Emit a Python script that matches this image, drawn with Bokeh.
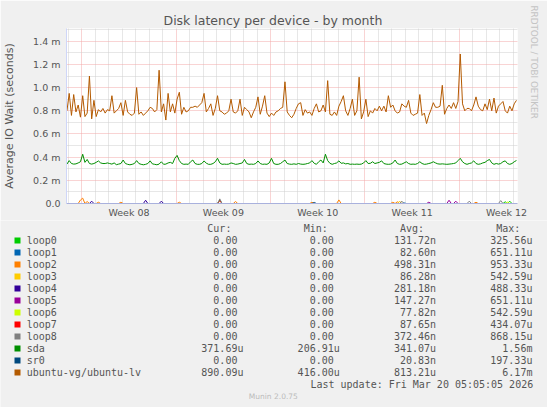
import numpy as np
from bokeh.plotting import figure
from bokeh.layouts import column
from bokeh.models import FixedTicker, Range1d, Title
from bokeh.core.properties import value
from bokeh.embed import file_html
from bokeh.resources import INLINE

# ---------------- data ----------------
TITLE = "Disk latency per device - by month"
Y_TITLE = "Average IO Wait (seconds)"
week_labels = ["Week 08", "Week 09", "Week 10", "Week 11", "Week 12"]
week_mid = [3.5, 10.5, 17.5, 24.5, 31.5]          # days from start of Week 08
week_bounds = [0, 7, 14, 21, 28]
y_ticks = [0, 0.2, 0.4, 0.6, 0.8, 1.0, 1.2, 1.4]  # milliseconds
y_tick_labels = ["0.0", "0.2 m", "0.4 m", "0.6 m", "0.8 m", "1.0 m", "1.2 m", "1.4 m"]
y_minor = [0.1, 0.3, 0.5, 0.7, 0.9, 1.1, 1.3, 1.5]

T_START = -1.1      # first sample, days relative to Week 08 start
T_STEP = 1.0 / 6.0  # 4-hour samples

ubuntu_lv_ms = [
    0.80, 0.95, 0.76, 0.94, 0.79, 0.85, 0.745, 0.93, 0.75, 0.78,
    1.10, 0.73, 0.89, 0.75, 0.81, 0.79, 0.82, 0.78, 0.81, 0.80,
    0.93, 0.78, 0.80, 0.82, 0.87, 0.76, 0.89, 0.79, 0.77, 0.76,
    0.78, 1.00, 0.77, 0.79, 0.76, 0.78, 0.80, 0.83, 0.82, 0.79,
    0.81, 1.15, 0.79, 0.86, 0.72, 0.95, 0.79, 0.86, 0.78, 0.90,
    0.96, 0.77, 0.83, 0.79, 0.80, 0.83, 0.83, 0.84, 0.83, 0.85,
    0.87, 0.95, 0.79, 0.82, 0.86, 0.76, 0.82, 0.93, 0.80, 0.79,
    0.77, 0.78, 0.80, 0.90, 0.79, 0.78, 0.80, 0.90, 0.76, 0.83,
    0.81, 0.79, 0.74, 0.79, 0.83, 0.92, 0.77, 0.84, 0.93, 0.78,
    0.75, 0.78, 0.76, 0.79, 0.80, 0.82, 0.83, 1.05, 0.79, 0.76,
    0.74, 0.77, 0.82, 0.86, 0.87, 0.76, 0.81, 0.78, 0.79, 0.76,
    0.82, 0.86, 0.79, 0.80, 0.85, 0.79, 1.06, 0.77, 0.76, 0.79,
    0.76, 0.84, 0.88, 0.93, 0.80, 0.76, 0.82, 0.90, 0.76, 0.80,
    1.09, 0.73, 0.79, 0.90, 0.75, 0.80, 0.78, 0.82, 0.80, 0.84,
    0.80, 0.84, 0.79, 0.93, 0.83, 0.85, 0.80, 0.78, 0.79, 0.86,
    0.84, 0.83, 0.89, 0.78, 0.76, 0.77, 0.78, 0.94, 0.76, 0.78,
    0.69, 0.76, 0.81, 0.87, 0.83, 0.83, 0.84, 1.02, 0.77, 0.82,
    0.85, 0.82, 0.87, 0.82, 0.88, 1.29, 0.86, 0.80, 0.82, 0.82,
    0.80, 0.85, 0.92, 0.84, 0.81, 0.80, 0.86, 0.81, 0.90, 0.80,
    0.91, 0.78, 0.84, 0.86, 0.88, 0.80, 0.78, 0.84, 0.80, 0.86,
    0.89,
]

sda_ms = [
    0.340, 0.370, 0.345, 0.340, 0.342, 0.350, 0.360, 0.425, 0.355, 0.380,
    0.345, 0.340, 0.345, 0.355, 0.367, 0.350, 0.345, 0.345, 0.350, 0.345,
    0.340, 0.350, 0.335, 0.340, 0.345, 0.375, 0.345, 0.338, 0.334, 0.338,
    0.345, 0.370, 0.345, 0.338, 0.334, 0.338, 0.345, 0.368, 0.342, 0.338,
    0.334, 0.340, 0.360, 0.338, 0.340, 0.350, 0.355, 0.345, 0.390, 0.415,
    0.370, 0.345, 0.338, 0.340, 0.338, 0.360, 0.375, 0.345, 0.338, 0.338,
    0.345, 0.367, 0.348, 0.338, 0.338, 0.345, 0.360, 0.390, 0.350, 0.338,
    0.340, 0.338, 0.340, 0.350, 0.345, 0.338, 0.340, 0.345, 0.350, 0.380,
    0.345, 0.338, 0.340, 0.338, 0.345, 0.367, 0.345, 0.338, 0.340, 0.338,
    0.350, 0.390, 0.345, 0.338, 0.338, 0.345, 0.360, 0.375, 0.345, 0.340,
    0.338, 0.342, 0.338, 0.345, 0.340, 0.338, 0.340, 0.345, 0.350, 0.370,
    0.347, 0.338, 0.360, 0.375, 0.350, 0.425, 0.370, 0.347, 0.338, 0.345,
    0.350, 0.368, 0.347, 0.350, 0.342, 0.345, 0.338, 0.340, 0.338, 0.340,
    0.338, 0.340, 0.350, 0.370, 0.345, 0.347, 0.360, 0.345, 0.350, 0.355,
    0.368, 0.345, 0.340, 0.338, 0.340, 0.350, 0.375, 0.345, 0.338, 0.340,
    0.350, 0.360, 0.345, 0.338, 0.340, 0.338, 0.345, 0.360, 0.345, 0.338,
    0.340, 0.345, 0.350, 0.360, 0.350, 0.342, 0.340, 0.342, 0.340, 0.338,
    0.340, 0.342, 0.345, 0.350, 0.370, 0.390, 0.360, 0.345, 0.338, 0.345,
    0.350, 0.368, 0.345, 0.338, 0.342, 0.350, 0.355, 0.370, 0.380, 0.350,
    0.338, 0.345, 0.340, 0.345, 0.360, 0.368, 0.345, 0.338, 0.345, 0.360,
    0.371,
]

# sparse (sample index, value in ms) activity of the otherwise idle devices
loop0_idx, loop0_val = [68, 195, 197], [0.03, 0.015, 0.02]
loop1_idx, loop1_val = [150], [0.005]
loop2_idx = [6, 7, 9, 14, 24, 50, 75, 109, 121, 137, 145, 147, 182]
loop2_val = [0.03, 0.046, 0.017, 0.011, 0.011, 0.011, 0.017, 0.011, 0.031, 0.011, 0.011, 0.015, 0.011]
loop3_idx, loop3_val = [148], [0.02]
loop4_idx, loop4_val = [11, 35, 42], [0.02, 0.028, 0.02]
loop5_idx, loop5_val = [161, 170, 173], [0.011, 0.028, 0.02]
loop6_idx, loop6_val = [196], [0.012]
loop7_idx, loop7_val = [68], [0.025]
loop8_idx, loop8_val = [68, 149, 179, 193], [0.04, 0.02, 0.02, 0.025]
sr0_idx, sr0_val = [110], [0.009]

legend_names = ["loop0", "loop1", "loop2", "loop3", "loop4", "loop5", "loop6",
                "loop7", "loop8", "sda", "sr0", "ubuntu-vg/ubuntu-lv"]
legend_colors = ["#00CC00", "#0066B3", "#FF8000", "#FFCC00", "#330099", "#990099",
                 "#CCFF00", "#FF0000", "#808080", "#008F00", "#00487D", "#B35A00"]
legend_cur = ["0.00"] * 9 + ["371.69u", "0.00", "890.09u"]
legend_min = ["0.00"] * 9 + ["206.91u", "0.00", "416.00u"]
legend_avg = ["131.72n", "82.60n", "498.31n", "86.28n", "281.18n", "147.27n", "77.82n",
              "87.65n", "372.46n", "341.07u", "20.83n", "813.21u"]
legend_max = ["325.56u", "651.11u", "953.33u", "542.59u", "488.33u", "651.11u", "542.59u",
              "434.07u", "868.15u", "1.56m", "197.33u", "6.17m"]
LAST_UPDATE = "Last update: Fri Mar 20 05:05:05 2026"
VERSION = "Munin 2.0.75"
SIDE_TEXT = "RRDTOOL / TOBI OETIKER"

# ---------------- build ----------------
N = len(ubuntu_lv_ms)
t = [T_START + i * T_STEP for i in range(N)]


def sparse(idx, val):
    s = np.zeros(N)
    s[idx] = val
    return s


series = [
    sparse(loop0_idx, loop0_val), sparse(loop1_idx, loop1_val), sparse(loop2_idx, loop2_val),
    sparse(loop3_idx, loop3_val), sparse(loop4_idx, loop4_val), sparse(loop5_idx, loop5_val),
    sparse(loop6_idx, loop6_val), sparse(loop7_idx, loop7_val), sparse(loop8_idx, loop8_val),
    np.array(sda_ms), sparse(sr0_idx, sr0_val), np.array(ubuntu_lv_ms),
]

W = 547
H1 = 220           # chart part (page y 0 .. 220)
H2 = 407 - H1      # legend part (page y 220 .. 407)
FL, FR, FT, FB = 66, 30, 28, 17
X0, X1 = -1.134, 32.31
Y0, Y1 = 0.0, 1.51

FONT = "DejaVu Sans"
MONO = "DejaVu Sans Mono"
TXT = "#555555"
BG = "#F0F0F0"
AXIS = "#CFD6F8"

p = figure(width=W, height=H1, output_backend="svg", toolbar_location=None,
           x_range=Range1d(X0, X1), y_range=Range1d(Y0, Y1),
           min_border_left=FL, min_border_right=FR, min_border_top=FT, min_border_bottom=FB)
p.background_fill_color = "#FFFFFF"
p.border_fill_color = BG
p.outline_line_color = None

p.title = Title(text=TITLE, align="left", offset=97, standoff=2, text_font=FONT,
                text_font_size="12.5px", text_font_style="normal", text_color=TXT)
p.add_layout(Title(text=SIDE_TEXT, align="left", offset=-23, standoff=18, vertical_align="top",
                   text_font=FONT, text_font_size="8.8px", text_font_style="normal",
                   text_color="#C4C4C4"), "right")

# axes
p.xaxis.ticker = FixedTicker(ticks=week_mid)
p.xaxis.major_label_overrides = {m: s for m, s in zip(week_mid, week_labels)}
p.yaxis.ticker = FixedTicker(ticks=y_ticks)
p.yaxis.major_label_overrides = {v: s for v, s in zip(y_ticks, y_tick_labels)}
for ax in (p.xaxis[0], p.yaxis[0]):
    ax.major_tick_line_color = None
    ax.minor_tick_line_color = None
    ax.major_tick_out = 0
    ax.major_tick_in = 0
    ax.minor_tick_out = 0
    ax.minor_tick_in = 0
    ax.major_label_text_font = FONT
    ax.major_label_text_font_size = "9.5px"
    ax.major_label_text_color = TXT
p.xaxis.major_label_standoff = 3
p.yaxis.major_label_standoff = 6
p.xaxis.axis_line_color = "#A9B1DD"
p.yaxis.axis_line_color = AXIS
p.yaxis.axis_label = Y_TITLE
p.yaxis.axis_label_standoff = 14
p.yaxis.axis_label_text_font = FONT
p.yaxis.axis_label_text_font_size = "11px"
p.yaxis.axis_label_text_font_style = "normal"
p.yaxis.axis_label_text_color = TXT

# grid
day_lines = [d for d in range(-1, 33) if d % 7 != 0]
p.xgrid.ticker = FixedTicker(ticks=week_bounds, minor_ticks=day_lines)
p.ygrid.ticker = FixedTicker(ticks=y_ticks, minor_ticks=y_minor)
for g in (p.xgrid[0], p.ygrid[0]):
    g.grid_line_color = "#F2A8A8"
    g.grid_line_dash = "1 1"
    g.grid_line_width = 1
    g.minor_grid_line_color = "#CFCFCF"
    g.minor_grid_line_dash = "1 1"
    g.minor_grid_line_width = 1

# series
for s, c in zip(series, legend_colors):
    p.line(t, s, line_color=c, line_width=1)

# ---------------- legend table (page pixel coordinates) ----------------
q = figure(width=W, height=H2, output_backend="svg", toolbar_location=None,
           x_range=Range1d(0, W), y_range=Range1d(H1 + H2, H1),
           x_axis_type=None, y_axis_type=None, min_border=0)
q.background_fill_color = BG
q.border_fill_color = BG
q.outline_line_color = None

# do not let the layout align the legend's frame with the chart's frame
for fig in (p, q):
    if "frame_align" in fig.properties():
        fig.frame_align = False


def fmt(v):
    return v.rjust(7) if v[-1].isalpha() else (v + " ").rjust(7)


NB = "\u00a0"
header = " " * 30 + "Cur:" + " " * 12 + "Min:" + " " * 12 + "Avg:" + " " * 12 + "Max:"
rows = [header]
for k, name in enumerate(legend_names):
    rows.append(name.ljust(19) + " " * 10 + fmt(legend_cur[k]) + " " * 9 + fmt(legend_min[k])
                + " " * 9 + fmt(legend_avg[k]) + " " * 9 + fmt(legend_max[k]))
row_y = [228] + [240 + 12 * k for k in range(len(legend_names))]
q.text(x=[26.2] * len(rows), y=row_y, text=[r.replace(" ", NB) for r in rows],
       text_font=value(MONO), text_font_size=value("10px"), text_color=TXT,
       text_align="left", text_baseline="middle")
q.rect(x=[17] * len(legend_names), y=row_y[1:], width=6, height=6,
       fill_color=legend_colors, line_color=None)
q.text(x=[532.7], y=[383.5], text=[LAST_UPDATE.replace(" ", NB)],
       text_font=value(MONO), text_font_size=value("10px"), text_color=TXT,
       text_align="right", text_baseline="middle")
q.text(x=[272.8], y=[396], text=[VERSION],
       text_font=value(FONT), text_font_size=value("7.5px"), text_color="#BBBBBB",
       text_align="center", text_baseline="middle")

layout = column(p, q, spacing=0)
open("out.html", "w").write(file_html(layout, INLINE))
